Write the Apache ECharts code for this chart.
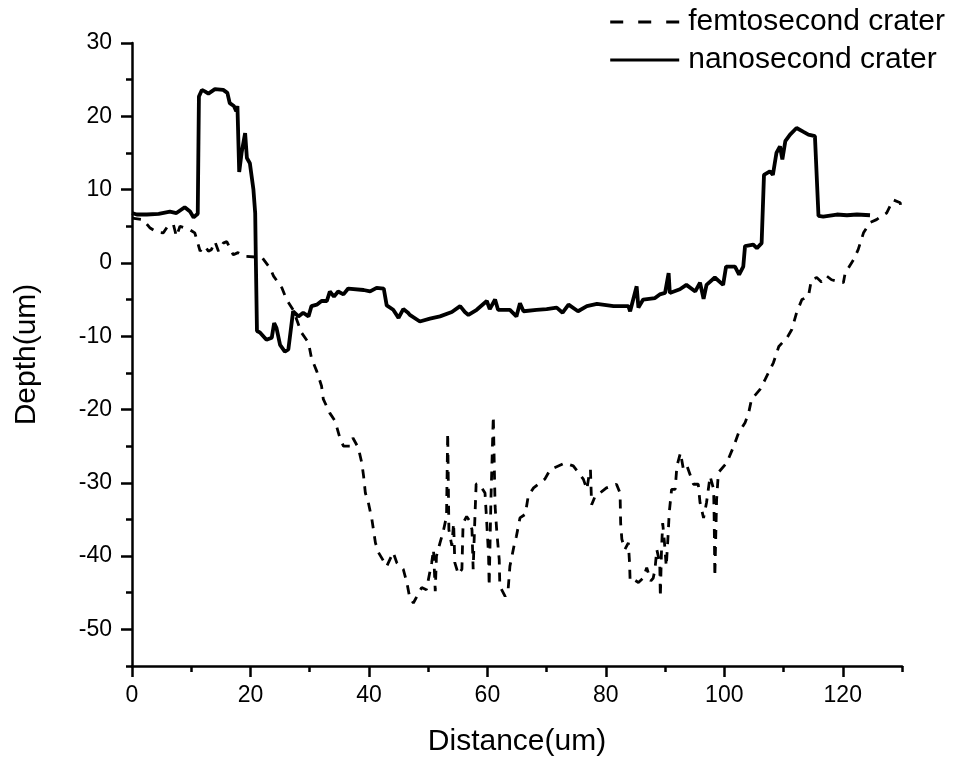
<!DOCTYPE html>
<html>
<head>
<meta charset="utf-8">
<script src="https://cdn.jsdelivr.net/npm/echarts@6/dist/echarts.min.js"></script>
<style>
html,body{margin:0;padding:0;background:#fff;}
#chart{width:954px;height:763px;}
</style>
</head>
<body>
<div id="chart"></div>
<script>
// ---- data ----
var nanoX = [0,0.8,2.5,4.5,6.4,7.5,8.9,9.8,10.4,11.1,11.3,11.8,12.3,12.9,14.0,15.4,16.1,16.5,17.2,17.6,17.8,18.1,18.5,19.1,19.4,19.9,20.5,20.8,20.9,21.1,21.6,22.7,23.6,24.0,24.4,25.0,25.8,26.4,27.2,28.1,28.9,29.8,30.3,31.2,32.0,32.9,33.4,34.1,34.8,35.7,36.5,39.1,40.2,41.3,42.5,43.0,44.1,45.0,45.8,46.6,46.9,48.6,50.3,52.0,54.0,55.4,56.2,56.8,58.2,59.9,60.4,61.3,61.8,63.8,64.9,65.5,66.1,68.3,70.0,71.7,72.7,73.7,75.3,76.8,78.5,81.3,83.8,84.1,85.2,85.5,86.3,88.3,89.1,90.0,90.6,90.8,92.5,93.6,95.1,95.9,96.5,97.0,98.4,99.8,100.3,101.8,102.5,103.2,103.5,104.9,105.5,106.3,106.7,107.7,108.2,108.8,109.4,109.8,110.3,111.1,112.2,113.3,114.2,115.3,115.9,116.7,119.0,120.7,122.4,124.6];
var nanoY = [6.8,6.6,6.6,6.7,7.0,6.8,7.6,7.0,6.2,6.7,22.7,23.6,23.4,23.1,23.7,23.6,23.2,21.8,21.4,20.7,21.4,12.4,15.0,17.7,14.3,13.6,10.0,6.8,0.9,-9.3,-9.5,-10.5,-10.2,-8.2,-8.9,-11.2,-12.1,-11.8,-6.6,-7.3,-6.8,-7.3,-5.9,-5.7,-5.2,-5.2,-3.9,-4.6,-3.9,-4.3,-3.5,-3.7,-3.9,-3.4,-3.5,-5.8,-6.4,-7.5,-6.3,-6.8,-7.1,-8.0,-7.6,-7.3,-6.7,-5.9,-6.7,-7.1,-6.4,-5.2,-6.3,-5.0,-6.4,-6.4,-7.3,-5.5,-6.6,-6.4,-6.3,-6.1,-6.8,-5.7,-6.6,-5.9,-5.6,-5.9,-5.9,-6.6,-3.2,-6.1,-5.0,-4.8,-4.3,-4.1,-1.4,-4.1,-3.6,-3.0,-3.9,-2.7,-4.9,-3.0,-2.0,-3.0,-0.5,-0.5,-1.6,-0.5,2.3,2.5,2.0,2.7,12.0,12.5,12.0,15.0,15.9,14.1,16.6,17.5,18.4,17.9,17.5,17.3,6.4,6.3,6.6,6.5,6.6,6.5];

var femtoX = [0,1.9,3.0,4.2,5.3,6.1,7.0,7.5,8.1,9.8,10.6,11.5,12.3,12.9,13.4,14.0,14.6,15.4,16.0,17.1,17.9,19.1,20.8,21.9,23.3,23.9,25.3,26.1,27.2,28.6,29.8,30.3,31.2,32.0,32.3,33.4,34.3,35.1,35.7,36.8,37.3,38.2,38.8,39.1,39.4,39.9,40.5,41.1,41.6,43.0,44.1,44.7,45.8,46.4,46.9,47.5,48.9,49.7,50.0,50.6,50.9,51.2,51.4,52.0,52.5,53.1,53.3,53.5,54.0,54.3,54.5,55.1,55.7,55.9,56.5,57.0,57.4,57.6,57.9,58.1,58.6,59.6,59.9,60.2,60.3,60.6,61.0,61.3,61.6,62.0,62.1,63.0,63.5,63.8,64.5,64.9,65.5,66.4,66.9,67.8,69.7,70.6,73.1,74.5,76.2,76.8,77.1,77.4,77.6,78.2,79.3,80.1,81.8,82.4,82.5,82.7,83.2,83.8,84.0,84.1,84.7,85.5,86.3,86.9,87.6,88.0,88.3,88.6,89.1,89.2,89.4,89.6,89.9,90.2,90.5,90.7,91.1,91.7,92.0,92.6,93.1,93.7,94.8,95.6,95.9,96.5,97.0,97.6,98.2,98.3,98.4,98.7,99.0,100.4,101.6,102.4,103.5,104.1,104.6,106.0,106.9,108.3,109.2,110.6,111.4,112.2,113.1,114.2,114.7,115.6,116.4,117.3,118.1,119.0,120.1,120.4,121.8,122.6,123.5,124.6,125.7,126.6,127.4,128.5,129.7,129.9];
var femtoY = [6.1,5.9,4.8,4.2,4.1,5.1,5.2,3.6,5.0,4.5,4.1,1.6,2.3,1.6,1.8,2.9,1.6,2.7,2.9,1.1,1.4,0.9,0.8,0.8,-0.7,-1.8,-3.4,-5.0,-6.4,-9.5,-10.9,-13.0,-14.8,-16.8,-18.6,-20.5,-21.6,-23.9,-25.0,-25.0,-23.9,-25.2,-27.3,-29.1,-31.4,-32.7,-35.0,-38.2,-39.5,-41.4,-39.5,-40.9,-41.8,-43.6,-45.7,-46.4,-44.3,-44.6,-44.6,-40.9,-39.1,-44.8,-40.0,-38.2,-36.8,-34.6,-23.2,-36.4,-38.6,-35.5,-40.9,-42.5,-41.8,-35.5,-34.6,-35.2,-36.4,-41.8,-34.6,-30.2,-30.1,-31.4,-35.5,-40.0,-44.1,-32.3,-20.9,-33.2,-36.8,-40.5,-44.1,-45.5,-44.6,-41.4,-38.6,-37.3,-34.8,-34.3,-31.8,-30.7,-29.5,-28.2,-27.3,-27.7,-29.5,-30.9,-29.3,-28.2,-33.0,-31.8,-31.2,-30.7,-30.2,-31.4,-35.5,-37.7,-39.1,-38.2,-40.9,-43.4,-43.2,-43.6,-43.0,-41.6,-43.4,-43.0,-41.8,-39.1,-40.9,-45.6,-39.1,-35.5,-38.2,-41.4,-37.3,-34.1,-30.9,-30.9,-27.7,-25.9,-28.2,-27.7,-30.2,-30.2,-32.7,-34.8,-32.7,-29.1,-30.9,-35.5,-42.8,-32.3,-28.6,-27.3,-25.0,-23.2,-21.8,-20.5,-18.6,-17.3,-15.9,-13.6,-11.4,-10.2,-9.1,-6.8,-5.0,-4.6,-2.3,-2.0,-2.6,-1.8,-2.3,-2.5,-2.7,-1.4,0.4,1.8,4.1,5.5,5.9,6.4,6.8,8.6,8.2,7.0];

var xMajorTicks = [0,20,40,60,80,100,120];
var xMinorTicks = [10,30,50,70,90,110,130];
var yMajorTicks = [-50,-40,-30,-20,-10,0,10,20,30];
var yMinorTicks = [-55,-45,-35,-25,-15,-5,5,15,25];

var seriesNames = ['femtosecond crater','nanosecond crater'];
var xTitle = 'Distance(um)';
var yTitle = 'Depth(um)';

function zip(xs, ys){ var out=[]; for (var i=0;i<xs.length;i++) out.push([xs[i], ys[i]]); return out; }

var FONT = '"Liberation Sans", Arial, sans-serif';
var chart = echarts.init(document.getElementById('chart'), null, {renderer:'canvas'});

var dashIcon = 'path://M0,0h13v3h-13zM28,0h13v3h-13zM56,0h13v3h-13z';
var solidIcon = 'path://M0,0h69v3h-69z';

var option = {
  backgroundColor:'#fff',
  animation:false,
  grid:{left:132, right:52, top:43, bottom:97, containLabel:false},
  legend:{
    orient:'vertical', right:9, top:7, padding:0, itemGap:8,
    itemWidth:69, itemHeight:3,
    itemStyle:{color:'#000', borderWidth:0},
    textStyle:{fontFamily:FONT, fontSize:30, color:'#000', padding:[0,0,0,4]},
    data:[{name:seriesNames[0], icon:dashIcon},{name:seriesNames[1], icon:solidIcon}]
  },
  xAxis:[{
    type:'value', min:0, max:130, position:'bottom',
    name:xTitle, nameLocation:'middle', nameGap:61,
    nameTextStyle:{fontFamily:FONT, fontSize:30, color:'#000'},
    axisLine:{show:true, onZero:false, lineStyle:{color:'#000', width:2.5}},
    axisTick:{show:true, inside:false, length:11, customValues:xMajorTicks, lineStyle:{color:'#000', width:2.5}},
    axisLabel:{show:true, margin:18, customValues:xMajorTicks, fontFamily:FONT, fontSize:23, color:'#000'},
    splitLine:{show:false}
  },{
    type:'value', min:0, max:130, position:'bottom', offset:0,
    axisLine:{show:false, onZero:false},
    axisTick:{show:true, inside:false, length:6, customValues:xMinorTicks, lineStyle:{color:'#000', width:2.5}},
    axisLabel:{show:false, customValues:xMinorTicks},
    splitLine:{show:false}
  }],
  yAxis:[{
    type:'value', min:-55, max:30, position:'left',
    name:yTitle, nameLocation:'middle', nameGap:90, nameRotate:90,
    nameTextStyle:{fontFamily:FONT, fontSize:30, color:'#000'},
    axisLine:{show:true, onZero:false, lineStyle:{color:'#000', width:2.5}},
    axisTick:{show:true, inside:false, length:11, customValues:yMajorTicks, lineStyle:{color:'#000', width:2.5}},
    axisLabel:{show:true, margin:20, customValues:yMajorTicks, fontFamily:FONT, fontSize:23, color:'#000'},
    splitLine:{show:false}
  },{
    type:'value', min:-55, max:30, position:'left', offset:0,
    axisLine:{show:false, onZero:false},
    axisTick:{show:true, inside:false, length:6, customValues:yMinorTicks, lineStyle:{color:'#000', width:2.5}},
    axisLabel:{show:false, customValues:yMinorTicks},
    splitLine:{show:false}
  }],
  series:[{
    name:seriesNames[0], type:'line', xAxisIndex:0, yAxisIndex:0,
    data:zip(femtoX, femtoY), symbol:'none', showSymbol:false,
    lineStyle:{color:'#000', width:2.8, type:[9,8]}, itemStyle:{color:'#000'},
    z:2
  },{
    name:seriesNames[1], type:'line', xAxisIndex:0, yAxisIndex:0,
    data:zip(nanoX, nanoY), symbol:'none', showSymbol:false,
    lineStyle:{color:'#000', width:3.8, type:'solid'}, itemStyle:{color:'#000'},
    z:3
  }]
};
chart.setOption(option);
</script>
</body>
</html>
